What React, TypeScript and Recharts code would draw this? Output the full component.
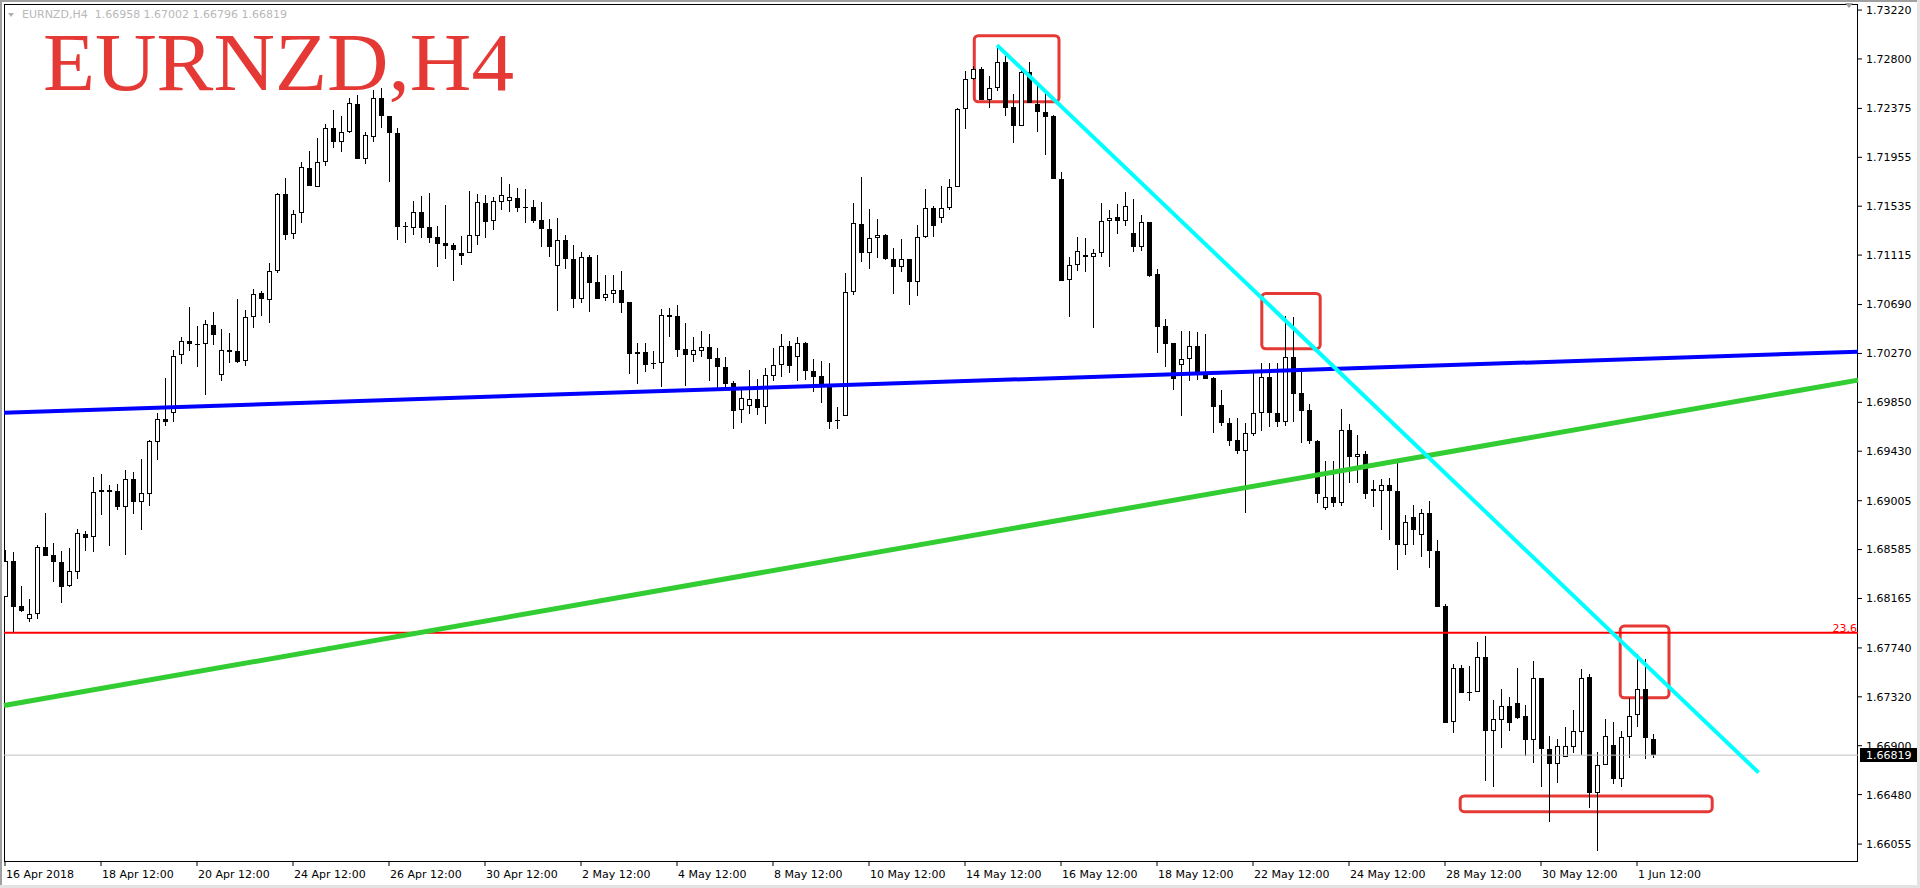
import { Bar, ComposedChart, ReferenceArea, ReferenceLine, XAxis, YAxis } from 'recharts';

// EURNZD H4, one value per bar, oldest first
const opens = [
  1.6818, 1.68484, 1.681, 1.67986, 1.68029, 1.68604, 1.68538, 1.68475, 1.68274, 1.68395,
  1.68718, 1.6869, 1.69096, 1.69096, 1.69088, 1.68953, 1.69188, 1.68996, 1.69065, 1.69511,
  1.69706, 1.6976, 1.70256, 1.70373, 1.70355, 1.70355, 1.70512, 1.70083, 1.70296, 1.70291,
  1.70201, 1.7058, 1.70787, 1.70725, 1.70974, 1.71639, 1.71293, 1.71474, 1.7186, 1.71697,
  1.71912, 1.72204, 1.72083, 1.72175, 1.72413, 1.71937, 1.72132, 1.72462, 1.72309, 1.72161,
  1.71364, 1.71345, 1.71482, 1.71356, 1.7127, 1.71218, 1.71201, 1.71132, 1.7113, 1.71281,
  1.71559, 1.7141, 1.71573, 1.71582, 1.71602, 1.71528, 1.71525, 1.71416, 1.71336, 1.71021,
  1.71242, 1.71078, 1.70735, 1.71096, 1.70881, 1.70743, 1.70778, 1.70812, 1.70709, 1.70262,
  1.70279, 1.70187, 1.70185, 1.70597, 1.70591, 1.70305, 1.70259, 1.70293, 1.70322, 1.70228,
  1.70151, 1.70013, 1.69781, 1.69821, 1.69876, 1.69812, 1.70078, 1.70168, 1.70331, 1.70236,
  1.70357, 1.70116, 1.70073, 1.7001, 1.69698, 1.6973, 1.70795, 1.71382, 1.7113, 1.71259,
  1.71285, 1.71078, 1.7101, 1.71078, 1.70881, 1.71267, 1.71516, 1.71431, 1.71516, 1.71697,
  1.72367, 1.72625, 1.72711, 1.72444, 1.72547, 1.72771, 1.72384, 1.72221, 1.7269, 1.72413,
  1.72346, 1.72309, 1.71766, 1.70901, 1.71027, 1.71113, 1.71101, 1.7113, 1.71405, 1.71439,
  1.7141, 1.71304, 1.71187, 1.71396, 1.70952, 1.70503, 1.70357, 1.70168, 1.70219, 1.70331,
  1.70093, 1.70059, 1.69824, 1.69669, 1.69526, 1.69434, 1.6958, 1.69755, 1.70065, 1.69755,
  1.69683, 1.70236, 1.69927, 1.69784, 1.6952, 1.68939, 1.69034, 1.68982, 1.69612, 1.69377,
  1.69403, 1.69102, 1.69085, 1.69137, 1.69085, 1.68624, 1.68864, 1.6871, 1.68896, 1.68572,
  1.681, 1.67106, 1.67565, 1.67361, 1.67358, 1.67659, 1.67029, 1.6712, 1.67238, 1.67264,
  1.67152, 1.66946, 1.67479, 1.66869, 1.66745, 1.668, 1.66886, 1.6702, 1.6749, 1.66496,
  1.66731, 1.66903, 1.66611, 1.66972, 1.67161, 1.67384, 1.66958,
];

const highs = [
  1.68581, 1.68561, 1.68272, 1.6816, 1.68624, 1.68896, 1.68639, 1.68572, 1.68596, 1.68761,
  1.68744, 1.69211, 1.69234, 1.69139, 1.69148, 1.69268, 1.69251, 1.69363, 1.69526, 1.69755,
  1.70059, 1.70299, 1.70411, 1.70669, 1.70505, 1.70557, 1.7063, 1.70476, 1.70443, 1.70737,
  1.70639, 1.70823, 1.70806, 1.71047, 1.71651, 1.71775, 1.71502, 1.71914, 1.72009, 1.72118,
  1.72241, 1.72361, 1.72309, 1.72461, 1.7249, 1.72169, 1.72533, 1.7255, 1.72309, 1.72204,
  1.71401, 1.71579, 1.71622, 1.71645, 1.71364, 1.71545, 1.71216, 1.71279, 1.71665, 1.71637,
  1.71628, 1.71611, 1.71783, 1.71725, 1.71688, 1.7168, 1.71588, 1.71571, 1.71422, 1.71433,
  1.71285, 1.71201, 1.71139, 1.71115, 1.71115, 1.70943, 1.70943, 1.70978, 1.70709, 1.70359,
  1.70359, 1.70291, 1.70651, 1.70663, 1.70686, 1.70529, 1.70411, 1.70462, 1.70437, 1.70316,
  1.70239, 1.70033, 1.69956, 1.70127, 1.7005, 1.70142, 1.70316, 1.70437, 1.70376, 1.70411,
  1.70368, 1.70222, 1.70205, 1.70187, 1.69812, 1.70958, 1.71559, 1.71788, 1.7151, 1.71425,
  1.71296, 1.71173, 1.7125, 1.71078, 1.7137, 1.7168, 1.71536, 1.71708, 1.71766, 1.72376,
  1.72693, 1.72739, 1.72728, 1.72653, 1.72919, 1.72825, 1.72498, 1.72733, 1.72776, 1.72576,
  1.72498, 1.72318, 1.71831, 1.71101, 1.71272, 1.71261, 1.71164, 1.71559, 1.71499, 1.71553,
  1.71654, 1.71594, 1.71459, 1.71401, 1.70992, 1.70565, 1.70357, 1.70462, 1.70462, 1.70451,
  1.70437, 1.70065, 1.69956, 1.69718, 1.69715, 1.69669, 1.70099, 1.70185, 1.70187, 1.70187,
  1.70591, 1.7058, 1.70113, 1.69833, 1.69526, 1.69348, 1.69348, 1.6979, 1.69661, 1.69566,
  1.69431, 1.69182, 1.69188, 1.69202, 1.69354, 1.68882, 1.68968, 1.68931, 1.69002, 1.68667,
  1.68117, 1.67602, 1.6759, 1.67584, 1.67788, 1.67842, 1.67292, 1.67384, 1.67315, 1.67565,
  1.67247, 1.67627, 1.67479, 1.66983, 1.66957, 1.6706, 1.67206, 1.67556, 1.67513, 1.66843,
  1.67132, 1.67106, 1.67029, 1.67307, 1.67688, 1.67642, 1.67002,
];

const lows = [
  1.68177, 1.67879, 1.68051, 1.67965, 1.67986, 1.68532, 1.68309, 1.68128, 1.68266, 1.68332,
  1.68575, 1.68566, 1.68882, 1.68618, 1.68925, 1.68538, 1.6889, 1.68753, 1.68959, 1.69354,
  1.69649, 1.69684, 1.70181, 1.70293, 1.70151, 1.69914, 1.70343, 1.70033, 1.70189, 1.70189,
  1.70166, 1.70492, 1.70595, 1.70533, 1.70965, 1.71246, 1.7125, 1.71393, 1.71711, 1.71697,
  1.71882, 1.72032, 1.72003, 1.72166, 1.71943, 1.71894, 1.72089, 1.72204, 1.71745, 1.71244,
  1.71221, 1.71287, 1.71264, 1.71221, 1.71015, 1.71081, 1.70895, 1.71029, 1.7113, 1.71201,
  1.71264, 1.7133, 1.71502, 1.71485, 1.71485, 1.71393, 1.71388, 1.71181, 1.71101, 1.70632,
  1.70992, 1.70664, 1.70706, 1.70628, 1.7074, 1.70723, 1.70706, 1.7062, 1.70096, 1.7001,
  1.70113, 1.70136, 1.69984, 1.70413, 1.70242, 1.69992, 1.70199, 1.70242, 1.70035, 1.6997,
  1.69984, 1.69623, 1.69675, 1.69749, 1.69743, 1.69666, 1.70033, 1.70067, 1.70104, 1.70035,
  1.70044, 1.69936, 1.69846, 1.69618, 1.69623, 1.6973, 1.70772, 1.71053, 1.70992, 1.71092,
  1.71072, 1.70778, 1.70972, 1.70683, 1.70766, 1.71259, 1.71267, 1.71388, 1.71499, 1.71697,
  1.722, 1.72619, 1.72444, 1.72378, 1.72527, 1.72312, 1.72075, 1.72221, 1.72419, 1.72175,
  1.71974, 1.71766, 1.70895, 1.7058, 1.7098, 1.70967, 1.70486, 1.71096, 1.71015, 1.71293,
  1.71367, 1.71144, 1.71154, 1.70924, 1.70271, 1.70151, 1.69953, 1.69735, 1.70035, 1.70041,
  1.70053, 1.69589, 1.69649, 1.69474, 1.69406, 1.68896, 1.6956, 1.69603, 1.6964, 1.6964,
  1.69649, 1.69683, 1.69498, 1.69492, 1.68987, 1.68925, 1.68953, 1.68959, 1.69159, 1.69154,
  1.69017, 1.68948, 1.68753, 1.68667, 1.68409, 1.68538, 1.68624, 1.68523, 1.68424, 1.68094,
  1.67097, 1.67011, 1.67355, 1.67286, 1.67358, 1.66599, 1.66547, 1.66883, 1.67029, 1.67129,
  1.66811, 1.66754, 1.66542, 1.66247, 1.66577, 1.668, 1.66839, 1.6682, 1.66362, 1.65995,
  1.66731, 1.66568, 1.66547, 1.66797, 1.67063, 1.66783, 1.66796,
];

const closes = [
  1.68484, 1.68094, 1.6806, 1.68029, 1.68604, 1.68532, 1.6848, 1.68266, 1.68398, 1.68724,
  1.68687, 1.69077, 1.69082, 1.69082, 1.68953, 1.69188, 1.68996, 1.69068, 1.69515, 1.69704,
  1.69681, 1.70246, 1.70373, 1.70349, 1.70349, 1.70521, 1.70426, 1.70299, 1.70284, 1.70196,
  1.7058, 1.70779, 1.70734, 1.70974, 1.71639, 1.71291, 1.71465, 1.71869, 1.71711, 1.71912,
  1.72204, 1.72083, 1.72169, 1.72419, 1.71943, 1.72146, 1.72462, 1.72309, 1.72161, 1.71358,
  1.71358, 1.71482, 1.7135, 1.71264, 1.71212, 1.71195, 1.71158, 1.71109, 1.71285, 1.71568,
  1.71401, 1.71577, 1.71628, 1.71611, 1.71522, 1.71522, 1.7141, 1.71336, 1.71181, 1.71242,
  1.71078, 1.70735, 1.71096, 1.70877, 1.7074, 1.70778, 1.70812, 1.70706, 1.70262, 1.70279,
  1.70173, 1.70176, 1.70597, 1.70585, 1.70302, 1.70259, 1.70297, 1.70322, 1.70224, 1.70151,
  1.7001, 1.69778, 1.69884, 1.69876, 1.69803, 1.70082, 1.70168, 1.70331, 1.70164, 1.70357,
  1.70116, 1.7007, 1.7001, 1.69678, 1.69687, 1.70795, 1.71388, 1.7113, 1.71259, 1.71285,
  1.71078, 1.7101, 1.71078, 1.70881, 1.71267, 1.71516, 1.71362, 1.71516, 1.71697, 1.72367,
  1.72625, 1.72711, 1.72444, 1.72547, 1.72771, 1.72376, 1.72226, 1.7269, 1.72419, 1.72346,
  1.72303, 1.71766, 1.70895, 1.71027, 1.71147, 1.71101, 1.7113, 1.71405, 1.71431, 1.7141,
  1.71534, 1.71187, 1.71396, 1.70935, 1.70499, 1.70353, 1.70053, 1.70219, 1.70331, 1.70093,
  1.70053, 1.69812, 1.69675, 1.6952, 1.69434, 1.69583, 1.69755, 1.70065, 1.69755, 1.69683,
  1.70236, 1.69924, 1.69778, 1.6952, 1.69062, 1.69039, 1.68982, 1.69612, 1.69382, 1.69403,
  1.69062, 1.69085, 1.69137, 1.69085, 1.68624, 1.68821, 1.68753, 1.68896, 1.68575, 1.68094,
  1.67097, 1.67565, 1.67355, 1.6735, 1.67659, 1.67029, 1.67126, 1.67238, 1.67092, 1.6714,
  1.66946, 1.67479, 1.66869, 1.66745, 1.669, 1.66894, 1.67026, 1.67479, 1.66496, 1.66731,
  1.6698, 1.66611, 1.66972, 1.67152, 1.67384, 1.66963, 1.66819,
];

const yTicks = [
  1.7322, 1.728, 1.72375, 1.71955, 1.71535, 1.71115, 1.7069, 1.7027, 1.6985, 1.6943,
  1.69005, 1.68585, 1.68165, 1.6774, 1.6732, 1.669, 1.6648, 1.66055,
];

const xTickBars = [0, 12, 24, 36, 48, 60, 72, 84, 96, 108, 120, 132, 144, 156, 168, 180, 192, 204];
const xTickLabels = [
  '16 Apr 2018', '18 Apr 12:00', '20 Apr 12:00', '24 Apr 12:00', '26 Apr 12:00', '30 Apr 12:00',
  '2 May 12:00', '4 May 12:00', '8 May 12:00', '10 May 12:00', '14 May 12:00', '16 May 12:00',
  '18 May 12:00', '22 May 12:00', '24 May 12:00', '28 May 12:00', '30 May 12:00', '1 Jun 12:00',
];

// drawn objects: trend lines [bar1, price1, bar2, price2]
const blueLine = [-0.125, 1.69761, 231.625, 1.70285];
const greenLine = [-0.125, 1.67245, 231.625, 1.70041];
const cyanLine = [124, 1.72919, 219.2, 1.66669];
const fibLevel = 1.67871;
const lastPrice = 1.66819;

// highlight boxes [bar1, bar2, priceTop, priceBottom]
const boxes = [
  [121.16, 131.75, 1.73, 1.72432],
  [157.1, 164.4, 1.70786, 1.7031],
  [201.9, 208.0, 1.67928, 1.67312],
  [181.9, 213.4, 1.66468, 1.66333],
];

const xDomain = [-0.125, 231.625];
const yDomain = [1.65901, 1.73272];

const rows = opens.map((o, i) => ({ i, open: o, high: highs[i], low: lows[i], close: closes[i] }));

const FONT = 'DejaVu Sans';

const Candle = (props: any) => {
  const { x, y, width, height, payload } = props;
  const { open, close, high, low } = payload;
  const cx = Math.round(x + width / 2) + 0.5;
  const span = high - low;
  const ppu = span > 0 ? height / span : 0;
  const yO = y + (high - open) * ppu;
  const yC = y + (high - close) * ppu;
  const top = Math.round(Math.min(yO, yC));
  const bot = Math.round(Math.max(yO, yC));
  const up = close > open;
  return (
    <g>
      <line x1={cx} x2={cx} y1={Math.round(y)} y2={Math.round(y + height)} stroke='#000' strokeWidth={1} />
      {up ? (
        <rect x={cx - 2} y={top + 0.5} width={4} height={Math.max(bot - top - 1, 1)} fill='#fff' stroke='#000' strokeWidth={1} />
      ) : (
        <rect x={cx - 2.5} y={top} width={5} height={Math.max(bot - top, 1)} fill='#000' />
      )}
    </g>
  );
};

const XTick = (p: any) => {
  const idx = xTickBars.indexOf(p.payload.value);
  return (
    <text x={p.x + 1} y={p.y + 10} fontSize={11} fontFamily={FONT} fill='#000'>
      {xTickLabels[idx]}
    </text>
  );
};

const Frame = (p: any) => (
  <rect
    x={Math.round(p.x) + 0.5}
    y={Math.round(p.y) + 0.5}
    width={Math.round(p.width) - 1}
    height={Math.round(p.height) - 1}
    fill='none'
    stroke='#000'
    strokeWidth={1}
  />
);

const RedBox = (p: any) => (
  <rect x={p.x} y={p.y} width={p.width} height={p.height} rx={4} ry={4} fill='none' stroke='#E53935' strokeWidth={3} />
);

const FibLabel = (p: any) => {
  const vb = p.viewBox || {};
  return (
    <text x={vb.x + vb.width - 1} y={vb.y - 1} textAnchor='end' fontSize={11} fontFamily={FONT} fill='#FF0000'>
      23.6
    </text>
  );
};

const PriceTag = (p: any) => {
  const vb = p.viewBox || {};
  const x = vb.x + vb.width;
  const y = Math.round(vb.y);
  return (
    <g>
      <rect x={x + 2} y={y - 7} width={57} height={14} fill='#000' />
      <text x={x + 8} y={y + 4} fontSize={11} fontFamily={FONT} fill='#fff'>
        {lastPrice.toFixed(5)}
      </text>
    </g>
  );
};

export default function App() {
  return (
    <div style={{ position: 'relative', width: 1920, height: 888, background: '#fff', overflow: 'hidden' }}>
      <style>{'body{margin:0}'}</style>
      <ComposedChart width={1920} height={888} data={rows} margin={{ top: 4, right: 0, bottom: 0, left: 4 }}>
        <XAxis
          dataKey='i'
          type='number'
          domain={xDomain}
          allowDataOverflow
          ticks={xTickBars}
          interval={0}
          height={26}
          axisLine={false}
          tickLine={{ stroke: '#000' }}
          tickSize={4}
          tickMargin={2}
          tick={<XTick />}
        />
        <YAxis
          orientation='right'
          type='number'
          domain={yDomain}
          allowDataOverflow
          ticks={yTicks}
          interval={0}
          width={62}
          axisLine={false}
          tickLine={{ stroke: '#000' }}
          tickSize={4}
          tickMargin={4}
          tickFormatter={(v: number) => v.toFixed(5)}
          tick={{ fill: '#000', fontSize: 11, fontFamily: FONT }}
        />
        <ReferenceLine y={lastPrice} stroke='#C0C0C0' strokeWidth={1} label={<PriceTag />} />
        <Bar dataKey={(d: any) => [d.low, d.high]} barSize={5} shape={<Candle />} isAnimationActive={false} />
        <ReferenceLine y={fibLevel} stroke='#FF0000' strokeWidth={2} label={<FibLabel />} />
        <ReferenceLine
          segment={[{ x: greenLine[0], y: greenLine[1] }, { x: greenLine[2], y: greenLine[3] }]}
          stroke='#32CD32'
          strokeWidth={5}
        />
        <ReferenceLine
          segment={[{ x: blueLine[0], y: blueLine[1] }, { x: blueLine[2], y: blueLine[3] }]}
          stroke='#0000FF'
          strokeWidth={4}
        />
        <ReferenceLine
          segment={[{ x: cyanLine[0], y: cyanLine[1] }, { x: cyanLine[2], y: cyanLine[3] }]}
          stroke='#00FFFF'
          strokeWidth={4}
        />
        {boxes.map((b, k) => (
          <ReferenceArea key={k} x1={b[0]} x2={b[1]} y1={b[3]} y2={b[2]} shape={<RedBox />} />
        ))}
        <ReferenceArea x1={xDomain[0]} x2={xDomain[1]} y1={yDomain[0]} y2={yDomain[1]} shape={<Frame />} />
      </ComposedChart>
      <svg width={1920} height={888} style={{ position: 'absolute', left: 0, top: 0, pointerEvents: 'none' }}>
        <polygon points='8,13 14,13 11,17' fill='#B0B0B0' />
        <text x={22} y={18} fontSize={11} fontFamily={FONT} fill='#B8B8B8' xmlSpace='preserve'>
          {'EURNZD,H4  1.66958 1.67002 1.66796 1.66819'}
        </text>
        <text x={43} y={90} fontSize={83} fontFamily='Liberation Serif' fill='#E53935' textLength={471} lengthAdjust='spacingAndGlyphs'>
          EURNZD,H4
        </text>
        <polygon points='1845,3 1853,3 1849,8' fill='#A0A0A0' />
      </svg>
      <div style={{ position: 'absolute', left: 0, top: 0, width: 1920, height: 2, background: '#A0A0A0' }} />
      <div style={{ position: 'absolute', left: 0, top: 0, width: 2, height: 888, background: '#A0A0A0' }} />
      <div style={{ position: 'absolute', left: 1917, top: 0, width: 3, height: 888, background: '#E3E3E3' }} />
      <div style={{ position: 'absolute', left: 0, top: 885, width: 1920, height: 3, background: '#E3E3E3' }} />
    </div>
  );
}
